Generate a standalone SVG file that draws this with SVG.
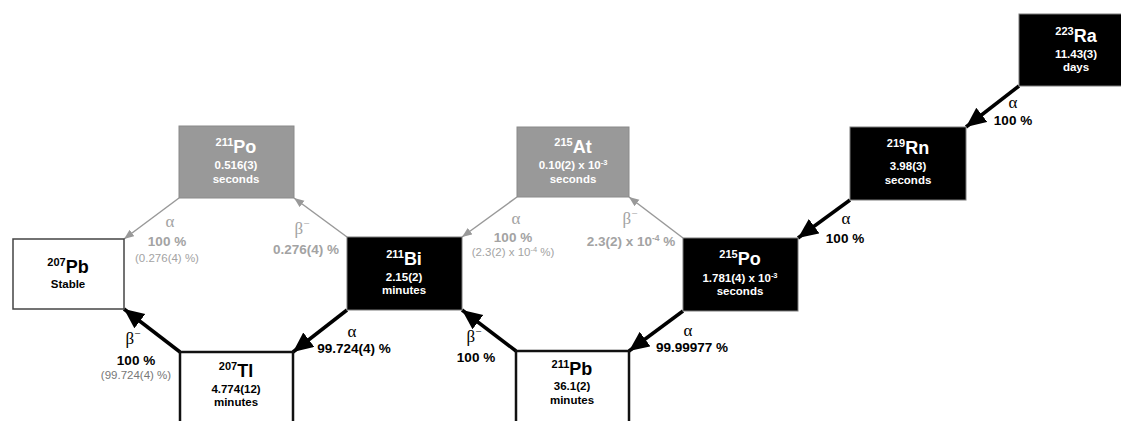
<svg xmlns="http://www.w3.org/2000/svg" width="1121" height="421" viewBox="0 0 1121 421">
<style>
.bk{fill:#000;stroke:#7a7a7a;stroke-width:1}
.gr{fill:#999;stroke:#8a8a8a;stroke-width:1}
.wt{fill:#fff;stroke:#111;stroke-width:2.5}
.wt1{fill:#fff;stroke:#444;stroke-width:1.5}
text{font-family:"Liberation Sans",Arial,sans-serif;font-weight:bold;text-anchor:middle}
.sym{font-size:18px}
.sup{font-size:11px}
.hl{font-size:11.5px}
.w{fill:#fff}
.b{fill:#000}
.lb{font-size:13.5px}
.pl{font-size:11.5px;font-weight:normal}
.gk{font-family:"Liberation Serif","Times New Roman",serif;font-weight:normal;font-size:17px}
.gt{fill:#a3a3a3}
.ab{stroke:#000;stroke-width:3.5;fill:none}
.ag{stroke:#999;stroke-width:1.5;fill:none}
</style>
<defs>
<marker id="hb" markerUnits="userSpaceOnUse" markerWidth="24" markerHeight="20" refX="20" refY="9" orient="auto">
<path d="M0,0 L20,9 L0,18 Z" fill="#000"/>
</marker>
<marker id="hg" markerUnits="userSpaceOnUse" markerWidth="12" markerHeight="10" refX="10" refY="4" orient="auto">
<path d="M0,0 L10,4 L0,8 Z" fill="#999"/>
</marker>
</defs>

<g id="connectors">
<line class="ab" x1="1019" y1="86" x2="966" y2="127" marker-end="url(#hb)"/>
<line class="ab" x1="850" y1="200" x2="798" y2="238" marker-end="url(#hb)"/>
<line class="ab" x1="683" y1="311" x2="629" y2="351" marker-end="url(#hb)"/>
<line class="ab" x1="516" y1="351" x2="462" y2="310" marker-end="url(#hb)"/>
<line class="ab" x1="347" y1="310" x2="293" y2="352" marker-end="url(#hb)"/>
<line class="ab" x1="180" y1="352" x2="124" y2="309" marker-end="url(#hb)"/>
<line class="ag" x1="683" y1="238" x2="629" y2="197" marker-end="url(#hg)"/>
<line class="ag" x1="517" y1="197" x2="462" y2="237" marker-end="url(#hg)"/>
<line class="ag" x1="347" y1="237" x2="294" y2="198" marker-end="url(#hg)"/>
<line class="ag" x1="179" y1="198" x2="124" y2="239" marker-end="url(#hg)"/>

<text class="gk b" x="1013" y="108">α</text>
<text class="lb b" x="1013" y="125">100 %</text>
<text class="gk b" x="846" y="224">α</text>
<text class="lb b" x="845" y="243">100 %</text>
<text class="gk b" x="688" y="336">α</text>
<text class="lb b" x="692" y="352">99.99977 %</text>
<text class="gk b" x="352" y="337">α</text>
<text class="lb b" x="354" y="353">99.724(4) %</text>
<text class="gk b" x="474" y="342">β<tspan font-size="11" dy="-7">−</tspan></text>
<text class="lb b" x="476" y="362">100 %</text>
<text class="gk b" x="133" y="344">β<tspan font-size="11" dy="-7">−</tspan></text>
<text class="lb b" x="136" y="365">100 %</text>
<text class="pl gt" x="136" y="379" style="fill:#777">(99.724(4) %)</text>

<text class="gk gt" x="630" y="224">β<tspan font-size="11" dy="-7">−</tspan></text>
<text class="lb gt" x="631" y="246">2.3(2) x 10<tspan font-size="8.5" dy="-5">-4</tspan><tspan dy="5"> %</tspan></text>
<text class="gk gt" x="516" y="224">α</text>
<text class="lb gt" x="513" y="242">100 %</text>
<text class="pl gt" x="513" y="256">(2.3(2) x 10<tspan font-size="7.5" dy="-4">-4</tspan><tspan dy="4"> %)</tspan></text>
<text class="gk gt" x="302" y="234">β<tspan font-size="11" dy="-7">−</tspan></text>
<text class="lb gt" x="306" y="254">0.276(4) %</text>
<text class="gk gt" x="170" y="227">α</text>
<text class="lb gt" x="167" y="246">100 %</text>
<text class="pl gt" x="167" y="262">(0.276(4) %)</text>
</g>

<g id="Ra223">
<rect class="bk" x="1019" y="14" width="114" height="72"/>
<text class="sym w" x="1076" y="42"><tspan class="sup" dy="-7">223</tspan><tspan dy="7">Ra</tspan></text>
<text class="hl w" x="1076" y="58">11.43(3)</text>
<text class="hl w" x="1076" y="71">days</text>
</g>

<g id="Rn219">
<rect class="bk" x="850" y="127" width="116" height="73"/>
<text class="sym w" x="908" y="154"><tspan class="sup" dy="-7">219</tspan><tspan dy="7">Rn</tspan></text>
<text class="hl w" x="908" y="170">3.98(3)</text>
<text class="hl w" x="908" y="184">seconds</text>
</g>

<g id="Po215">
<rect class="bk" x="683" y="238" width="115" height="73"/>
<text class="sym w" x="740" y="265"><tspan class="sup" dy="-7">215</tspan><tspan dy="7">Po</tspan></text>
<text class="hl w" x="740" y="282">1.781(4) x 10<tspan font-size="7.5" dy="-4">-3</tspan></text>
<text class="hl w" x="740" y="295">seconds</text>
</g>

<g id="At215">
<rect class="gr" x="517" y="127" width="112" height="70"/>
<text class="sym w" x="573" y="153"><tspan class="sup" dy="-7">215</tspan><tspan dy="7">At</tspan></text>
<text class="hl w" x="573" y="169">0.10(2) x 10<tspan font-size="7.5" dy="-4">-3</tspan></text>
<text class="hl w" x="573" y="183">seconds</text>
</g>

<g id="Bi211">
<rect class="bk" x="347" y="237" width="115" height="73"/>
<text class="sym w" x="404" y="265"><tspan class="sup" dy="-7">211</tspan><tspan dy="7">Bi</tspan></text>
<text class="hl w" x="404" y="281">2.15(2)</text>
<text class="hl w" x="404" y="294">minutes</text>
</g>

<g id="Po211">
<rect class="gr" x="179" y="126" width="115" height="72"/>
<text class="sym w" x="236" y="153"><tspan class="sup" dy="-7">211</tspan><tspan dy="7">Po</tspan></text>
<text class="hl w" x="236" y="169">0.516(3)</text>
<text class="hl w" x="236" y="183">seconds</text>
</g>

<g id="Pb207">
<rect class="wt1" x="13" y="239" width="111" height="70"/>
<text class="sym b" x="68" y="273"><tspan class="sup" dy="-7">207</tspan><tspan dy="7">Pb</tspan></text>
<text class="hl b" x="68" y="288">Stable</text>
</g>

<g id="Tl207">
<rect class="wt" x="180" y="352" width="113" height="74"/>
<text class="sym b" x="236" y="377"><tspan class="sup" dy="-7">207</tspan><tspan dy="7">Tl</tspan></text>
<text class="hl b" x="236" y="393">4.774(12)</text>
<text class="hl b" x="236" y="406">minutes</text>
</g>

<g id="Pb211">
<rect class="wt" x="516" y="351" width="113" height="75"/>
<text class="sym b" x="572" y="375"><tspan class="sup" dy="-7">211</tspan><tspan dy="7">Pb</tspan></text>
<text class="hl b" x="572" y="390">36.1(2)</text>
<text class="hl b" x="572" y="404">minutes</text>
</g>
</svg>
